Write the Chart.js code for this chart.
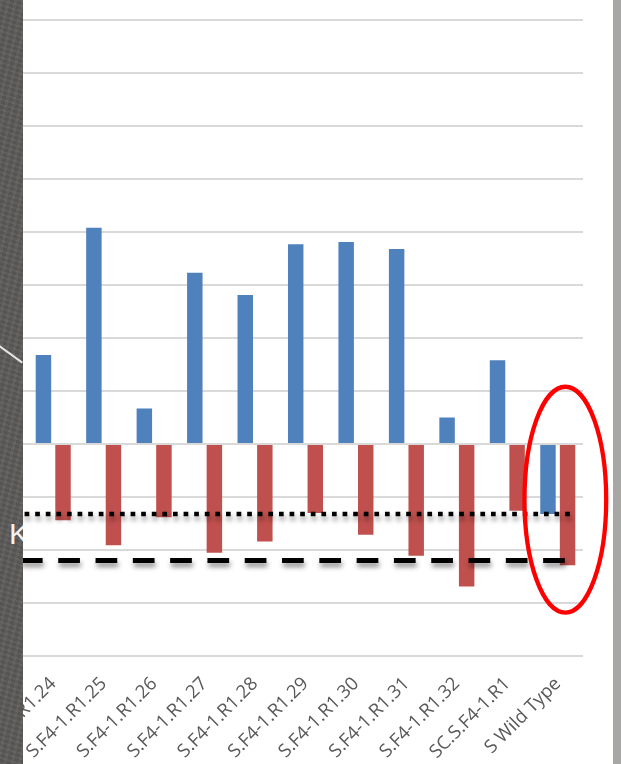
<!DOCTYPE html>
<html>
<head>
<meta charset="utf-8">
<script src="https://cdn.jsdelivr.net/npm/chart.js@4/dist/chart.umd.min.js"></script>
<style>
  html, body { margin: 0; padding: 0; background: #ffffff; }
  #wrap { position: relative; width: 621px; height: 764px; overflow: hidden; background: #ffffff; }
  #chart { position: absolute; left: 0; top: 0; }
  #leftEdge {
    position: absolute; left: 0; top: 0; width: 23px; height: 764px; overflow: hidden;
    background:
      repeating-linear-gradient(17deg, rgba(255,255,255,0.035) 0 2px, rgba(0,0,0,0.035) 2px 5px),
      repeating-linear-gradient(103deg, rgba(255,255,255,0.03) 0 3px, rgba(0,0,0,0.04) 3px 7px),
      #5c5b59;
  }
  #leftEdge .streak {
    position: absolute; left: -2px; top: 344px; width: 30px; height: 2px;
    background: #e6e6e6; transform: rotate(36deg); transform-origin: left center;
  }
  #leftEdge .glyph {
    position: absolute; left: 9px; top: 519px; color: #f2f2f2;
    font: 30px "Liberation Sans", sans-serif; line-height: 1;
  }
  #rightEdge { position: absolute; left: 613px; top: 0; width: 8px; height: 764px; background: #a7a7a5; }
</style>
</head>
<body>
<div id="wrap">
  <canvas id="chart" width="621" height="764"></canvas>
  <div id="leftEdge"><div class="streak"></div><div class="glyph">K</div></div>
  <div id="rightEdge"></div>
</div>
<script>
// Lines, one per category
const categories = [
  "S.F4-1.R1.24", "S.F4-1.R1.25", "S.F4-1.R1.26", "S.F4-1.R1.27",
  "S.F4-1.R1.28", "S.F4-1.R1.29", "S.F4-1.R1.30", "S.F4-1.R1.31",
  "S.F4-1.R1.32", "SC.S.F4-1.R1", "S Wild Type"
];

// First measurement per line (blue)
const seriesA = [1.68, 4.08, 0.67, 3.23, 2.81, 3.77, 3.81, 3.68, 0.50, 1.58, -1.32];
// Second measurement per line (red)
const seriesB = [-1.44, -1.91, -1.38, -2.05, -1.84, -1.30, -1.71, -2.11, -2.69, -1.26, -2.29];

// Reference levels: dotted and dashed
const dottedLevel = -1.32;
const dashedLevel = -2.20;

// Value axis range
const yMin = -4;
const yMax = 8;

// Highlight ring around the wild type: centre (category index, value), radii (categories, values)
const ring = { cx: 10.15, cy: -1.05, rx: 0.81, ry: 2.13 };

const extendGrid = {
  id: 'extendGrid',
  beforeDatasetsDraw(chart) {
    const { ctx, chartArea, scales } = chart;
    const y = scales.y;
    ctx.save();
    ctx.strokeStyle = '#d9d9d9';
    ctx.lineWidth = 2;
    y.ticks.forEach(t => {
      const py = y.getPixelForValue(t.value);
      ctx.beginPath();
      ctx.moveTo(0, py);
      ctx.lineTo(chartArea.left, py);
      ctx.stroke();
    });
    ctx.restore();
  }
};

const overlays = {
  id: 'overlays',
  afterDatasetsDraw(chart) {
    const { ctx, scales } = chart;
    const x = scales.x, y = scales.y;
    const step = x.getPixelForValue(1) - x.getPixelForValue(0);
    const last = x.getPixelForValue(categories.length - 1);

    function refLine(level, endFrac, width, dash) {
      const py = y.getPixelForValue(level);
      ctx.save();
      ctx.strokeStyle = '#000000';
      ctx.lineWidth = width;
      ctx.lineCap = 'butt';
      ctx.setLineDash(dash);
      ctx.shadowColor = 'rgba(0,0,0,0.45)';
      ctx.shadowBlur = 5;
      ctx.shadowOffsetX = 1;
      ctx.shadowOffsetY = 4;
      ctx.beginPath();
      ctx.moveTo(last + endFrac * step, py);
      ctx.lineTo(0, py);
      ctx.stroke();
      ctx.restore();
    }
    refLine(dottedLevel, 0.24, 4.6, [4.7, 5.9]);
    refLine(dashedLevel, 0.14, 5, [21.7, 15.6]);

    // Red ring
    const cx = x.getPixelForValue(0) + ring.cx * step;
    const cy = y.getPixelForValue(ring.cy);
    const rx = ring.rx * step;
    const ry = Math.abs(y.getPixelForValue(0) - y.getPixelForValue(ring.ry));
    ctx.save();
    ctx.strokeStyle = '#ff0000';
    ctx.lineWidth = 4.3;
    ctx.beginPath();
    ctx.ellipse(cx, cy, rx, ry, 0, 0, Math.PI * 2);
    ctx.stroke();
    ctx.restore();
  }
};

new Chart(document.getElementById('chart'), {
  type: 'bar',
  data: {
    labels: categories,
    datasets: [
      { data: seriesA, backgroundColor: '#4f81bd', categoryPercentage: 0.776, barPercentage: 0.79 },
      { data: seriesB, backgroundColor: '#c0504d', categoryPercentage: 0.776, barPercentage: 0.79 }
    ]
  },
  options: {
    responsive: false,
    animation: false,
    devicePixelRatio: 1,
    layout: { padding: { left: 28, right: 38, top: 20, bottom: 0 } },
    plugins: { legend: { display: false }, tooltip: { enabled: false } },
    scales: {
      x: {
        grid: { display: false, drawTicks: false },
        border: { display: false },
        ticks: {
          color: '#595959',
          font: { family: '"Open Sans", sans-serif', size: 18.5 },
          minRotation: 45, maxRotation: 45,
          autoSkip: false,
          padding: 17
        },
        afterFit(s) { s.height = 108; s.paddingLeft = 0; s.paddingRight = 0; }
      },
      y: {
        min: yMin, max: yMax,
        ticks: { display: false, stepSize: 1 },
        grid: { color: '#d9d9d9', lineWidth: 2, drawTicks: false },
        border: { display: false },
        afterFit(s) { s.width = 0; s.paddingTop = 0; s.paddingBottom = 0; }
      }
    }
  },
  plugins: [extendGrid, overlays]
});
</script>
</body>
</html>
